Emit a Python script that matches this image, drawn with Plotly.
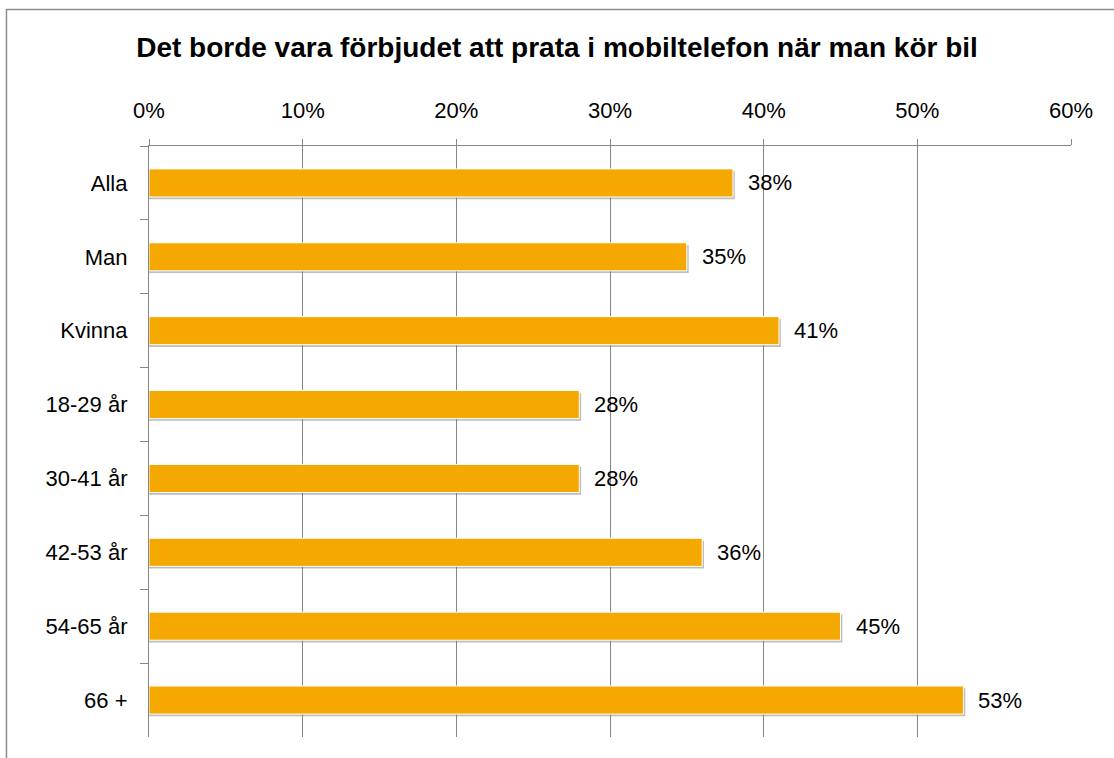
import plotly.graph_objects as go

categories = ["Alla", "Man", "Kvinna", "18-29 år", "30-41 år", "42-53 år", "54-65 år", "66 +"]
values = [38, 35, 41, 28, 28, 36, 45, 53]
x_ticks = [0, 10, 20, 30, 40, 50, 60]
x_tick_labels = ["0%", "10%", "20%", "30%", "40%", "50%", "60%"]
title = "Det borde vara förbjudet att prata i mobiltelefon när man kör bil"

ORANGE = "#F5A800"
GRID = "#868686"
FONT = "Liberation Sans, Arial, sans-serif"

fig = go.Figure()
# soft shadow under bars
fig.add_trace(go.Bar(
    y=categories, x=[v + 0.12 for v in values], orientation="h",
    marker=dict(color="rgba(110,110,110,0.45)", line=dict(width=0)),
    width=0.38, offset=-0.16, hoverinfo="skip", showlegend=False,
))
fig.add_trace(go.Bar(
    y=categories, x=values, orientation="h",
    marker=dict(color=ORANGE, line=dict(color="white", width=1)),
    width=0.38, offset=-0.19, showlegend=False,
))
for c, v in zip(categories, values):
    fig.add_annotation(x=v, y=c, text=f"{v}%", showarrow=False,
                       xanchor="left", xshift=13, yshift=0,
                       font=dict(family=FONT, size=22, color="black"))

fig.update_layout(
    width=1114, height=758,
    barmode="overlay",
    paper_bgcolor="white", plot_bgcolor="white",
    margin=dict(l=149, r=43, t=146, b=21),
    title=dict(text=f"<b>{title}</b>", x=0.5, xanchor="center", y=0.938, yanchor="middle",
               font=dict(family=FONT, size=28, color="black")),
    font=dict(family=FONT, size=22, color="black"),
    xaxis=dict(side="top", range=[0, 60], tickvals=x_ticks, ticktext=x_tick_labels,
               showgrid=True, gridcolor=GRID, gridwidth=1.2,
               showline=True, linecolor=GRID, linewidth=1.2,
               ticks="outside", ticklen=6, tickcolor=GRID, tickwidth=1.2,
               zeroline=False, fixedrange=True,
               tickfont=dict(family=FONT, size=22, color="black"), ticklabelstandoff=12),
    yaxis=dict(autorange="reversed", type="category", tickson="boundaries",
               showgrid=False, showline=True, linecolor=GRID, linewidth=1.2,
               ticks="outside", ticklen=8, tickcolor=GRID, tickwidth=1.2,
               fixedrange=True,
               tickfont=dict(family=FONT, size=22, color="black"), ticklabelstandoff=16),
    shapes=[dict(type="rect", xref="paper", yref="paper",
                 x0=-0.1546, x1=1.06, y0=-0.06, y1=1.231,
                 line=dict(color="#8C8C8C", width=1.5), layer="below")],
)

fig.write_html("out.html", config={"displayModeBar": False},
               post_script="document.body.style.margin='0';")
